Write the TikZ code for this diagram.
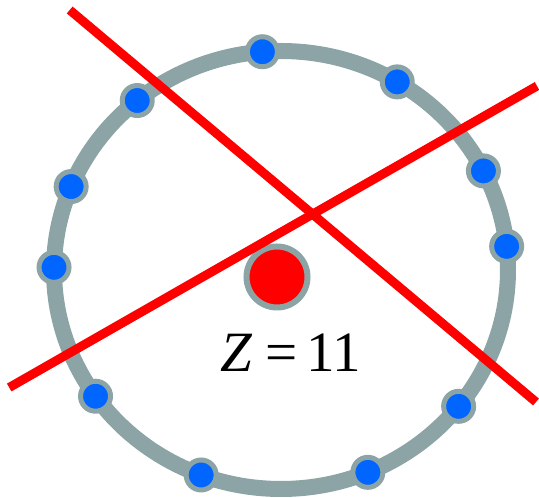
\documentclass[tikz,border=0pt]{standalone}
\usepackage{fontspec}
\setmainfont{Liberation Serif}
\usetikzlibrary{positioning}
\definecolor{ringgray}{RGB}{140,164,165}
\definecolor{elblue}{RGB}{0,102,255}

\begin{document}
\begin{tikzpicture}[x=1pt, y=1pt,
  orbit/.style={draw=ringgray, line width=16pt},
  electron/.style={circle, fill=elblue, draw=ringgray, line width=5pt, minimum size=30pt, inner sep=0pt},
  nucleus/.style={circle, fill=red, draw=ringgray, line width=6pt, minimum size=61pt, inner sep=0pt},
  cut/.style={draw=red, line width=9pt}]
\useasboundingbox (0,0) rectangle (539,498);
\coordinate (c) at (281,228);
\draw[orbit] (c) ellipse [x radius=227, y radius=219];
\foreach \t [count=\i] in {94.7,59.2,129.3,26.9,157.6,6.2,179.3,321.5,215.2,249.4,292.5}
  \path (c) ++(\t:227pt and 219pt) node[electron] (e\i) {};
\node[nucleus] (nuc) at (277,221) {};
\node[anchor=base west, inner sep=0pt, font=\fontsize{57}{64}\selectfont] (zlabel) at (220,126)
  {\textit{Z}\hspace{13pt}=\hspace{9pt}11};
% the two cuts
\coordinate (a1) at (69.7,488);
\coordinate (a2) at (536,96);
\coordinate (b1) at (9.2,110.5);
\coordinate (b2) at (537,412);
\draw[cut] (a1) -- (a2);
\draw[cut] (b1) -- (b2);
\end{tikzpicture}
\end{document}
